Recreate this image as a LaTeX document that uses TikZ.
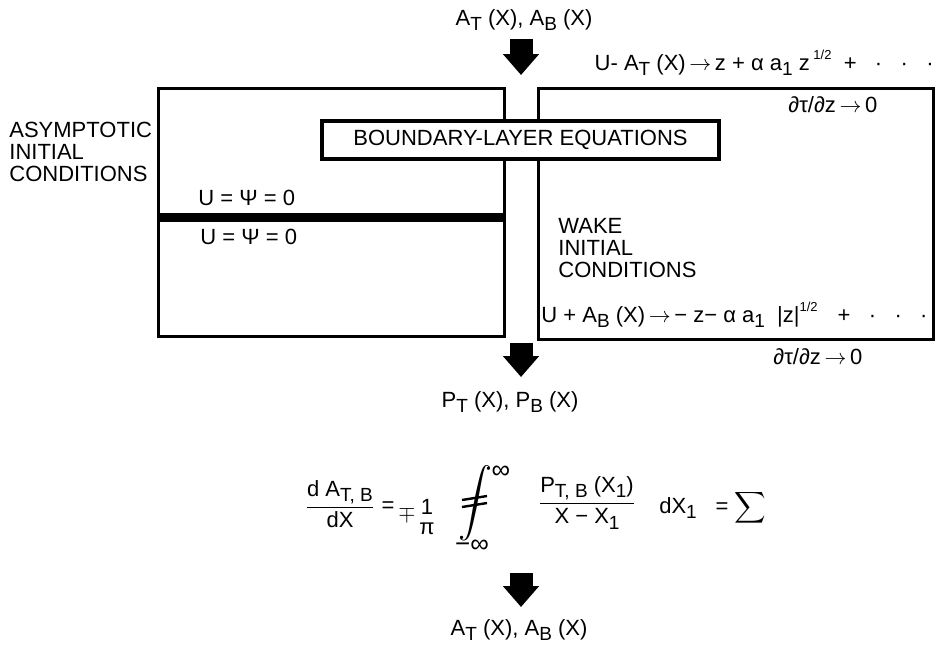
\documentclass[tikz,border=0pt]{standalone}
\usepackage{amsmath}
\usepackage{graphicx}
\usepackage{fontspec}
\setmainfont{Liberation Sans}
\usetikzlibrary{arrows.meta,positioning}

\newcommand\lo[1]{\raisebox{-0.45ex}{\fontsize{9.5}{9.5}\selectfont #1}}
\newcommand\hi[1]{\raisebox{0.9ex}{\fontsize{6.5}{6.5}\selectfont #1}}
\newcommand\tends{\,$\rightarrow$\,}

\tikzset{
  txt/.style={font=\fontsize{11}{11.2}\selectfont, inner sep=1pt},
  panel/.style={draw, line width=1.6pt, anchor=north west, inner sep=0pt},
  bigarrow/.style={line width=11.5pt, -{Triangle[width=17.5pt,length=10.5pt]}},
}

\begin{document}
\begin{tikzpicture}[x=0.5pt,y=-0.5pt]
    \useasboundingbox (0,0) rectangle (940,650);
    % the two solution regions and the plate between them
    \node[panel, minimum width=173pt, minimum height=124pt] (asym) at (157,87) {};
    \node[panel, minimum width=197.5pt, minimum height=125.5pt] (wake) at (537,87) {};
    \fill (157,213) rectangle (503,222);
    \node[panel, txt, anchor=center, fill=white, minimum width=198.5pt, minimum height=19pt] (blayer) at (520.5,140) {BOUNDARY-LAYER EQUATIONS};

    % left region
    \node[txt, align=left, anchor=west] (asymlbl) at (7,152) {ASYMPTOTIC\\INITIAL\\CONDITIONS};
    \node[txt, anchor=west] (wallT) at (196,198) {U = Ψ = 0};
    \node[txt, anchor=west] (wallB) at (198,237) {U = Ψ = 0};

    % wake region
    \node[txt, anchor=east] (farT) at (936,63) {U- A\lo{T} (X)\tends z + α a\lo{1}\ z\,\hi{1/2}\ \ +\ \ \ ·\ \ \ ·\ \ \ ·};
    \node[txt, anchor=west] (tauT) at (786,105) {∂τ/∂z\tends 0};
    \node[txt, align=left, anchor=west] (wakelbl) at (556,248) {WAKE\\INITIAL\\CONDITIONS};
    \node[txt, anchor=west] (farB) at (539,315) {U + A\lo{B} (X)\tends − z− α a\lo{1}\ \ |z|\hi{1/2}\hspace{10pt}+\ \ \ ·\ \ \ ·\ \ \ ·};
    \node[txt, anchor=west] (tauB) at (771,357) {∂τ/∂z\tends 0};

    % flow of the iteration
    \node[txt] (ain) at (524,20) {A\lo{T} (X), A\lo{B} (X)};
    \node[txt] (pout) at (510,402) {P\lo{T} (X), P\lo{B} (X)};
    \node[txt] (aout) at (519,630) {A\lo{T} (X), A\lo{B} (X)};
    \coordinate (feedA) at (521,39);  \coordinate (feedAtip) at (521,75);
    \coordinate (gapB) at (521,343);  \coordinate (gapBtip) at (521,377);
    \coordinate (intdown) at (521,573); \coordinate (intdowntip) at (521,607);
    \draw[bigarrow] (feedA) -- (feedAtip);
    \draw[bigarrow] (gapB) -- (gapBtip);
    \draw[bigarrow] (intdown) -- (intdowntip);

    % Hilbert integral
    \node[txt] (dAdX) at (340,504) {$\dfrac{\text{d A\lo{T, B}}}{\text{dX}}$};
    \node[txt] (eqA) at (388,507) {=};
    \node[txt] (mp) at (407,514) {$\mp$};
    \node[txt, inner sep=0pt] (one) at (427,507) {1};
    \node[txt, inner sep=0pt] (piden) at (427,529) {π};
    \node (int) at (475,503) {\scalebox{1.7}{$\displaystyle\int$}};
    \draw[line width=1.2pt] ([shift={(-13,-3)}]int.center) -- ([shift={(12,-7)}]int.center);
    \draw[line width=1.2pt] ([shift={(-13,4)}]int.center) -- ([shift={(12,0)}]int.center);
    \node[txt, font=\fontsize{13}{13}\selectfont] (infU) at (501,472) {∞};
    \node[txt, font=\fontsize{13}{13}\selectfont] (infL) at (472,546) {−∞};
    \node[txt] (Pfrac) at (587,503) {$\dfrac{\text{P\lo{T, B} (X\lo{1})}}{\text{X − X\lo{1}}}$};
    \node[txt] (dX1) at (678,508) {dX\lo{1}};
    \node[txt] (sumeq) at (741,508) {= $\displaystyle\sum$};
\end{tikzpicture}
\end{document}
